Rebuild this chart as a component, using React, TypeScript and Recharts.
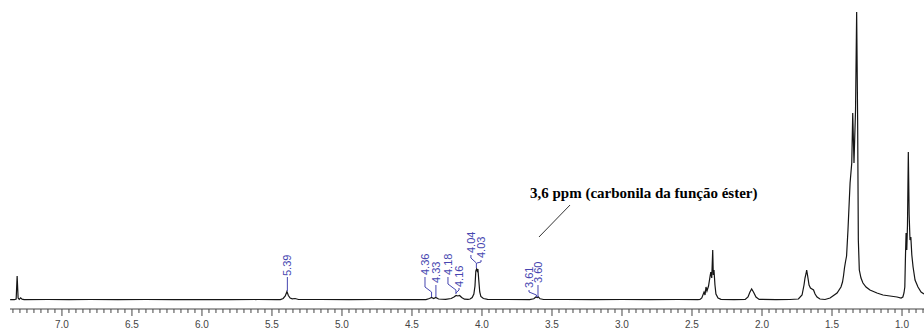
import React from 'react';
import { LineChart, Line, XAxis, YAxis, ReferenceLine, ReferenceDot } from 'recharts';

// spectrum: [shift in ppm, height above baseline]
const chcl3Peak = [
  [7.37, 0.3], [7.34, 0.3], [7.327, 1], [7.32, 24], [7.313, 2], [7.305, 0.6], [7.295, 2.2], [7.285, 0.8], [7.27, 0.4],
];
const baselineLeft = [
  [7.1, 0.5], [6.95, 0.3], [6.8, 0.5], [6.6, 0.3], [6.4, 0.5], [6.2, 0.3], [6.0, 0.4], [5.8, 0.3], [5.6, 0.5], [5.47, 0.4],
];
const olefinPeak = [
  [5.44, 0.4], [5.42, 1.5], [5.405, 4], [5.393, 8.5], [5.383, 4.5], [5.37, 2], [5.355, 1.2], [5.335, 1.5], [5.31, 0.5],
];
const baselineMid = [[5.15, 0.5], [4.95, 0.4], [4.75, 0.5], [4.55, 0.4]];
const glycerolPeaks = [
  [4.4, 0.4], [4.375, 1.5], [4.36, 2.5], [4.345, 1.5], [4.33, 2.5], [4.31, 1], [4.26, 0.6], [4.22, 1.5],
  [4.2, 3], [4.185, 4.5], [4.172, 4], [4.16, 4.5], [4.145, 2.5], [4.125, 0.8], [4.1, 0.6],
];
const esterPeak = [
  [4.085, 1], [4.07, 2.5], [4.058, 6], [4.05, 14], [4.044, 29], [4.039, 31], [4.034, 29], [4.029, 31],
  [4.023, 20], [4.016, 8], [4.008, 3.5], [3.99, 1.5], [3.96, 0.6],
];
const methoxyPeak = [[3.66, 0.4], [3.63, 1.2], [3.615, 3], [3.605, 2.5], [3.598, 3.2], [3.585, 1.2], [3.56, 0.5]];
const baselineRight = [[3.4, 0.5], [3.2, 0.4], [3.0, 0.5], [2.8, 0.4], [2.6, 0.5], [2.46, 0.4]];
const alphaCH2Peak = [
  [2.443, 0.5], [2.43, 2], [2.414, 8], [2.407, 5], [2.4, 13], [2.393, 9], [2.382, 14], [2.366, 28],
  [2.359, 22], [2.352, 50], [2.348, 25], [2.343, 30], [2.336, 15], [2.329, 6], [2.314, 2], [2.293, 0.6],
];
const allylicPeak = [
  [2.2, 0.4], [2.12, 0.5], [2.1, 3], [2.086, 8], [2.074, 11], [2.061, 8], [2.043, 3], [2.02, 0.6], [1.9, 0.4], [1.8, 0.5],
];
const betaCH2Peak = [
  [1.74, 1], [1.714, 5], [1.7, 15], [1.693, 22], [1.686, 26], [1.681, 30], [1.675, 25], [1.664, 15],
  [1.654, 12], [1.643, 11], [1.632, 10], [1.621, 6], [1.607, 3], [1.586, 1], [1.55, 0.5],
];
const methylenePeak = [
  [1.514, 2], [1.464, 7], [1.436, 13], [1.425, 18], [1.418, 24], [1.411, 32], [1.404, 38], [1.396, 44],
  [1.386, 70], [1.371, 117], [1.359, 137], [1.352, 187], [1.343, 137], [1.332, 190], [1.324, 288],
  [1.317, 180], [1.312, 60], [1.305, 30], [1.293, 22], [1.279, 17], [1.257, 13], [1.229, 10],
  [1.179, 7], [1.136, 5], [1.036, 3], [1.007, 2],
];
const methylPeak = [
  [0.994, 3], [0.986, 7], [0.98, 13], [0.976, 40], [0.971, 67], [0.966, 50], [0.961, 75], [0.955, 148],
  [0.949, 85], [0.943, 60], [0.937, 63], [0.93, 45], [0.921, 33], [0.907, 20], [0.886, 13], [0.864, 8], [0.843, 6],
];

const spectrum = [
  ...chcl3Peak, ...baselineLeft, ...olefinPeak, ...baselineMid, ...glycerolPeaks, ...esterPeak,
  ...methoxyPeak, ...baselineRight, ...alphaCH2Peak, ...allylicPeak, ...betaCH2Peak, ...methylenePeak, ...methylPeak,
].map(([ppm, h]) => ({ ppm, h }));

const majorTicks = [7.0, 6.5, 6.0, 5.5, 5.0, 4.5, 4.0, 3.5, 3.0, 2.5, 2.0, 1.5, 1.0];
const tickLabels = ['7.0', '6.5', '6.0', '5.5', '5.0', '4.5', '4.0', '3.5', '3.0', '2.5', '2.0', '1.5', '1.0'];
const minorTicks = Array.from({ length: 131 }, (_, i) => +(0.85 + i * 0.05).toFixed(2));

const peakLabels = ['5.39', '4.36', '4.33', '4.18', '4.16', '4.04', '4.03', '3.61', '3.60'];

// where each rotated label sits and the leader that runs down to its peak (ppm, height)
const labelLayout = [
  { at: [5.39, 24], path: [[5.39, 23], [5.39, 9]] },
  { at: [4.407, 25], path: [[4.407, 23], [4.407, 13], [4.36, 8], [4.36, 3]] },
  { at: [4.329, 17], path: [[4.329, 15], [4.329, 3]] },
  { at: [4.243, 25], path: [[4.243, 23], [4.243, 16], [4.186, 10], [4.186, 6]] },
  { at: [4.164, 13], path: [[4.164, 12], [4.164, 10], [4.186, 7]] },
  { at: [4.079, 47], path: [[4.079, 45], [4.079, 42], [4.04, 37], [4.04, 32]] },
  { at: [4.007, 42], path: [[4.007, 40], [4.007, 38], [4.036, 37]] },
  { at: [3.664, 12], path: [[3.664, 10], [3.664, 8], [3.611, 5], [3.611, 3]] },
  { at: [3.6, 17], path: [[3.6, 15], [3.6, 3]] },
];

const annotation = '3,6 ppm (carbonila da função éster)';

const BLUE = '#4646b0';
const AXIS = '#444';

function PpmTick({ x, y, payload }: any) {
  const idx = majorTicks.findIndex((t) => Math.abs(t - payload.value) < 1e-6);
  const major = idx >= 0;
  return (
    <g>
      <line x1={x} x2={x} y1={y} y2={y + (major ? 7 : 4)} stroke={AXIS} strokeWidth={1} />
      {major && (
        <text x={x} y={y + 19} textAnchor="middle" fontSize={10} fill={AXIS} fontFamily="Liberation Sans, Arial, sans-serif">
          {tickLabels[idx]}
        </text>
      )}
    </g>
  );
}

export default function App() {
  return (
    <div style={{ position: 'absolute', left: 0, top: 0, background: '#fff' }}>
      <LineChart width={924} height={329} data={spectrum} margin={{ top: 0, right: 0, bottom: 0, left: 10 }}>
        <XAxis
          dataKey="ppm"
          type="number"
          reversed
          domain={[0.843, 7.371]}
          allowDataOverflow
          ticks={minorTicks}
          interval={0}
          tickSize={0}
          tickMargin={0}
          tickLine={false}
          tick={<PpmTick />}
          height={20}
          axisLine={{ stroke: AXIS }}
        />
        <YAxis hide type="number" domain={[-9, 300]} allowDataOverflow />
        <Line dataKey="h" type="linear" dot={false} stroke="#151515" strokeWidth={1.2} isAnimationActive={false} />

        {labelLayout.map((l, i) =>
          l.path.slice(1).map((p, j) => (
            <ReferenceLine
              key={`seg-${i}-${j}`}
              segment={[{ x: l.path[j][0], y: l.path[j][1] }, { x: p[0], y: p[1] }]}
              stroke={BLUE}
              strokeWidth={1}
              ifOverflow="visible"
            />
          ))
        )}
        {labelLayout.map((l, i) => (
          <ReferenceDot
            key={`lbl-${i}`}
            x={l.at[0]}
            y={l.at[1]}
            r={0}
            ifOverflow="visible"
            shape={(p: any) => (
              <text
                x={p.cx}
                y={p.cy}
                transform={`rotate(-90 ${p.cx} ${p.cy})`}
                dominantBaseline="central"
                fontSize={11}
                fill={BLUE}
                fontFamily="Liberation Sans, Arial, sans-serif"
              >
                {peakLabels[i]}
              </text>
            )}
          />
        ))}

        <ReferenceLine
          segment={[{ x: 3.371, y: 95 }, { x: 3.593, y: 63 }]}
          stroke="#333"
          strokeWidth={1}
          ifOverflow="visible"
        />
        <ReferenceDot
          x={3.657}
          y={102}
          r={0}
          ifOverflow="visible"
          shape={(p: any) => (
            <text x={p.cx} y={p.cy} fontSize={15} fontWeight="bold" fill="#000" fontFamily="Liberation Serif, Times New Roman, serif">
              {annotation}
            </text>
          )}
        />
      </LineChart>
    </div>
  );
}
